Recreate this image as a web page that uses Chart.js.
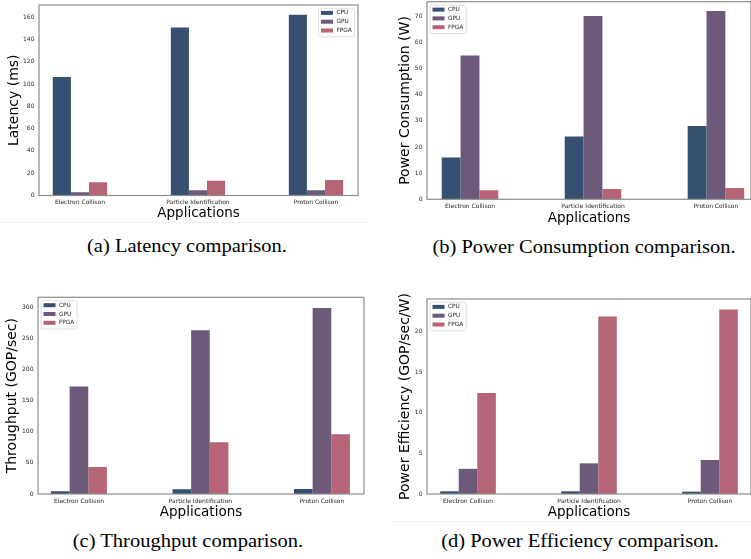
<!DOCTYPE html>
<html>
<head>
<meta charset="utf-8">
<script src="https://cdn.jsdelivr.net/npm/chart.js@4.4.0/dist/chart.umd.min.js"></script>
<style>
  body { margin: 0; background: #fff; width: 751px; height: 559px; position: relative; overflow: hidden; }
  canvas { position: absolute; }
  .cap {
    position: absolute; white-space: nowrap; color: #000;
    font-family: "Liberation Serif", "Times New Roman", serif; font-size: 18px; line-height: 18px;
    transform: translateX(-50%) scaleX(1.14);
  }
  .sep { position: absolute; height: 1px; background: #f0f0f0; }
</style>
</head>
<body>
<canvas id="latency" width="375" height="222" style="left:0;top:0"></canvas>
<canvas id="power" width="376" height="227" style="left:375px;top:0"></canvas>
<canvas id="throughput" width="375" height="231" style="left:0;top:290px"></canvas>
<canvas id="efficiency" width="376" height="231" style="left:375px;top:290px"></canvas>
<div class="sep" style="left:0;top:222px;width:370px"></div>
<div class="sep" style="left:390px;top:521px;width:361px"></div>
<div class="cap" style="left:186.5px;top:237px">(a) Latency comparison.</div>
<div class="cap" style="left:583.5px;top:238px">(b) Power Consumption comparison.</div>
<div class="cap" style="left:187.5px;top:532px">(c) Throughput comparison.</div>
<div class="cap" style="left:580px;top:532px">(d) Power Efficiency comparison.</div>
<script>
const categories = ['Electron Collison', 'Particle Identification', 'Proton Collison'];
const seriesNames = ['CPU', 'GPU', 'FPGA'];
const seriesColors = ['#355070', '#6d597a', '#b56576'];

const latencyCPU = [106.2, 150.7, 162];
const latencyGPU = [2.9, 4.6, 4.6];
const latencyFPGA = [11.8, 13.3, 13.9];

const powerCPU = [16, 24, 28];
const powerGPU = [55, 70.1, 72];
const powerFPGA = [3.5, 3.9, 4.3];

const throughputCPU = [4.5, 7.5, 8];
const throughputGPU = [172.5, 263, 299];
const throughputFPGA = [43.4, 83, 96];

const efficiencyCPU = [0.33, 0.33, 0.29];
const efficiencyGPU = [3.1, 3.77, 4.18];
const efficiencyFPGA = [12.42, 21.85, 22.7];

const font = 'DejaVu Sans';

// grey frame round the plot area
const frame = {
    id: 'frame',
    afterDraw(chart) {
        const { ctx, chartArea: a } = chart;
        ctx.save();
        ctx.strokeStyle = '#8c8c8c';
        ctx.lineWidth = 1.2;
        ctx.strokeRect(a.left, a.top, a.right - a.left, a.bottom - a.top);
        ctx.restore();
    }
};

// small matplotlib-like legend inside the plot
const boxLegend = {
    id: 'boxLegend',
    afterDraw(chart, args, opts) {
        const { ctx, chartArea: a } = chart;
        const w = 36, h = 28.5;
        const x = opts.side === 'right' ? a.right - 3.5 - w : a.left + 3;
        const y = a.top + 3.3;
        ctx.save();
        ctx.fillStyle = 'rgba(255,255,255,0.85)';
        ctx.strokeStyle = '#d6d6d6';
        ctx.lineWidth = 0.8;
        ctx.beginPath();
        ctx.roundRect(x, y, w, h, 1.5);
        ctx.fill();
        ctx.stroke();
        ctx.font = '5.8px "' + font + '"';
        ctx.textBaseline = 'middle';
        chart.data.datasets.forEach((ds, i) => {
            const cy = y + 4.6 + i * 8.8;
            ctx.fillStyle = ds.backgroundColor;
            ctx.fillRect(x + 2.5, cy - 2, 12, 4);
            ctx.fillStyle = '#262626';
            ctx.fillText(ds.label, x + 18, cy);
        });
        ctx.restore();
    }
};

function makeChart(id, yTitle, values, lay) {
    new Chart(document.getElementById(id), {
        type: 'bar',
        data: {
            datasets: values.map((vals, s) => ({
                label: seriesNames[s],
                data: vals.map((v, i) => ({ x: i, y: v })),
                backgroundColor: seriesColors[s],
                categoryPercentage: 0.46,
                barPercentage: 1,
            }))
        },
        options: {
            responsive: false,
            animation: false,
            layout: { padding: { top: lay.top, right: lay.right, left: 0, bottom: 0 } },
            plugins: {
                legend: { display: false },
                tooltip: { enabled: false },
                boxLegend: { side: lay.legend },
            },
            scales: {
                x: {
                    type: 'linear',
                    offset: false,
                    min: lay.xMin,
                    max: lay.xMax,
                    grid: { display: false, drawTicks: false, offset: false },
                    border: { display: false },
                    ticks: {
                        stepSize: 1, includeBounds: false, autoSkip: false, maxRotation: 0,
                        padding: 3.5, color: '#262626', font: { family: font, size: 6 },
                        callback: v => categories[v] ?? '',
                    },
                    title: {
                        display: true, text: 'Applications', color: '#000',
                        font: { family: font, size: 13.5 }, padding: { top: 0, bottom: 0.6 },
                    },
                    afterFit: s => {
                        s.height = lay.xh;
                        s.paddingLeft = 0; s.paddingRight = 0;
                    },
                },
                y: {
                    min: 0,
                    max: lay.yMax,
                    grid: { display: false, drawTicks: false },
                    border: { display: false },
                    ticks: {
                        stepSize: lay.step, includeBounds: false, padding: 4.5,
                        color: '#262626', font: { family: font, size: 6 },
                    },
                    title: {
                        display: true, text: yTitle, color: '#000',
                        font: { family: font, size: 14 }, padding: { top: lay.tp, bottom: 0 },
                    },
                    afterFit: s => {
                        s.width = lay.yw;
                        s.paddingTop = 0; s.paddingBottom = 0;
                    },
                },
            },
        },
        plugins: [frame, boxLegend],
    });
}

makeChart('latency', 'Latency (ms)', [latencyCPU, latencyGPU, latencyFPGA],
    { top: 5, right: 17, yw: 39, xh: 26.5, tp: 6, xMin: -0.347, xMax: 2.356, yMax: 170.8, step: 20, legend: 'right' });
makeChart('power', 'Power Consumption (W)', [powerCPU, powerGPU, powerFPGA],
    { top: 1.7, right: 0, yw: 52, xh: 27.7, tp: 21.6, xMin: -0.35, xMax: 2.285, yMax: 75.6, step: 10, legend: 'left' });
makeChart('throughput', 'Throughput (GOP/sec)', [throughputCPU, throughputGPU, throughputFPGA],
    { top: 7.3, right: 11, yw: 38, xh: 27, tp: 3.6, xMin: -0.337, xMax: 2.346, yMax: 316, step: 50, legend: 'left' });
makeChart('efficiency', 'Power Efficiency (GOP/sec/W)', [efficiencyCPU, efficiencyGPU, efficiencyFPGA],
    { top: 9, right: 0, yw: 52, xh: 27, tp: 21.6, xMin: -0.339, xMax: 2.339, yMax: 24, step: 5, legend: 'left' });
</script>
</body>
</html>
